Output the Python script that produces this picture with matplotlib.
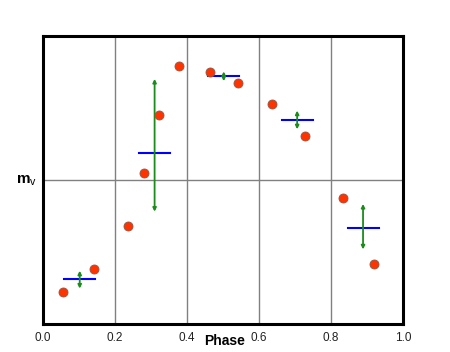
import matplotlib
matplotlib.use("Agg")
import matplotlib.pyplot as plt

plt.rcParams['font.family'] = ['Liberation Sans', 'DejaVu Sans']
plt.rcParams['mathtext.fontset'] = 'custom'
plt.rcParams['mathtext.rm'] = 'Liberation Sans'
plt.rcParams['mathtext.bf'] = 'Liberation Sans:bold'

# observed points (phase, relative brightness)
phase = [0.055, 0.142, 0.236, 0.280, 0.322, 0.378, 0.463, 0.542, 0.636, 0.729, 0.833, 0.920]
mag = [1.10, 1.90, 3.41, 5.23, 7.26, 8.95, 8.75, 8.37, 7.63, 6.52, 4.39, 2.07]

# binned means and spread
bin_phase = [0.102, 0.310, 0.502, 0.706, 0.889]
bin_mean = [1.56, 5.95, 8.61, 7.07, 3.34]
bin_lo = [1.23, 3.90, 8.43, 6.76, 2.59]
bin_hi = [1.85, 8.51, 8.77, 7.41, 4.17]
bar_half = 0.043

xticks = [0.0, 0.2, 0.4, 0.6, 0.8, 1.0]

fig = plt.figure(figsize=(4.5, 3.52), dpi=100)
ax = fig.add_axes([43 / 450, 28 / 352, 360 / 450, 288 / 352])

# grid lines
for x in xticks[1:-1]:
    ax.axvline(x, color='#808080', lw=1, zorder=1)
ax.axhline(5, color='#808080', lw=1, zorder=1)

# means and spreads
for p, m, lo, hi in zip(bin_phase, bin_mean, bin_lo, bin_hi):
    ax.plot([p - bar_half, p + bar_half], [m, m], color='#0000ff', lw=1.5, zorder=2)
    ax.annotate('', xy=(p, hi), xytext=(p, lo),
                arrowprops=dict(arrowstyle='<|-|>,head_length=0.2,head_width=0.1',
                                color='#1a8c1a', lw=1.3, shrinkA=0, shrinkB=0), zorder=3)

ax.plot(phase, mag, 'o', color='#ff3300', markeredgecolor='#8a5a4a',
        markeredgewidth=0.6, markersize=6.5, zorder=4)

ax.set_xlim(0, 1)
ax.set_ylim(0, 10)
ax.set_xticks(xticks)
ax.set_xticklabels(['%.1f' % t for t in xticks], fontsize=8.5, color='#222222')
ax.tick_params(axis='x', length=0, pad=6)
ax.set_yticks([])
for s in ax.spines.values():
    s.set_linewidth(2.2)
    s.set_color('black')

fig.text(225 / 450, 1 - 341 / 352, 'Phase', fontsize=10, fontweight='bold',
         ha='center', va='center')
fig.text(26 / 450, 1 - 181 / 352, r'$\mathbf{m}_\mathrm{v}$', fontsize=11,
         ha='center', va='center')

fig.savefig('out.png', dpi=100)
